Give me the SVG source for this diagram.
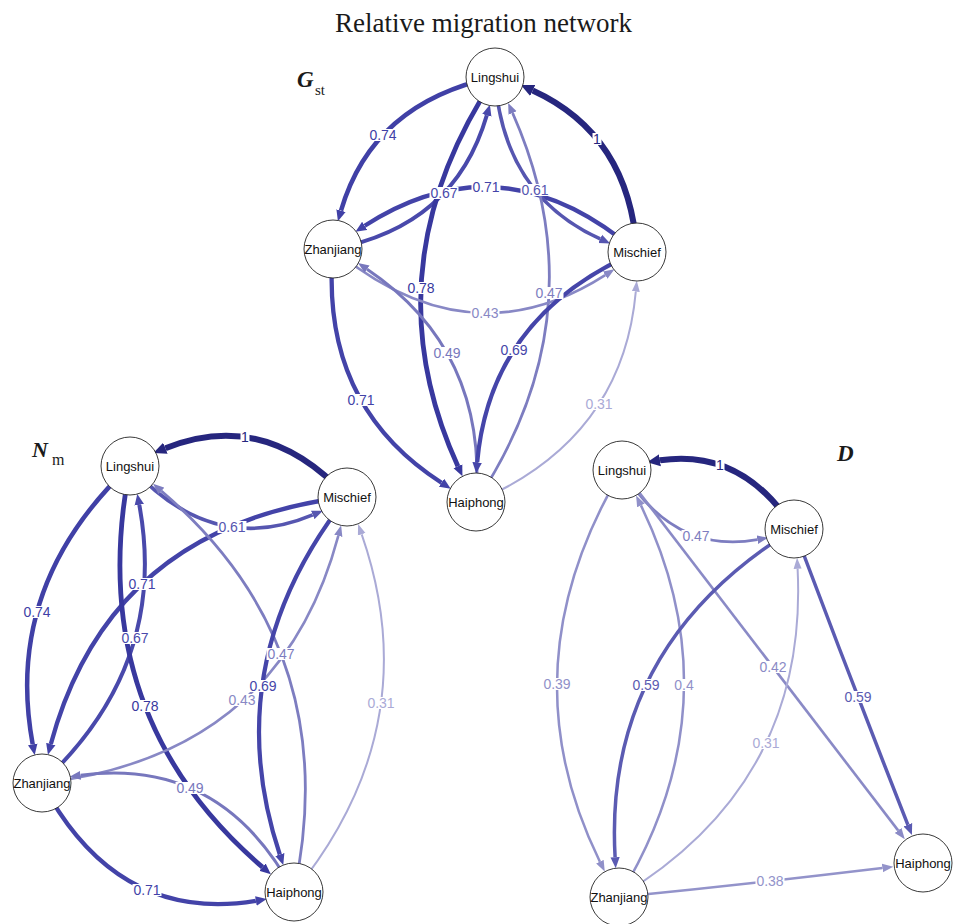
<svg xmlns="http://www.w3.org/2000/svg" width="953" height="924" viewBox="0 0 953 924">
<style>
.e{fill:none;stroke-linecap:butt}
.w100{stroke:#26267e;stroke-width:6}
.w78{stroke:#38389e;stroke-width:4.8}
.w74{stroke:#4040a6;stroke-width:4.5}
.w71{stroke:#4343a8;stroke-width:4.3}
.w69{stroke:#4545a9;stroke-width:4.2}
.w67{stroke:#4949ab;stroke-width:4}
.w61{stroke:#5656b0;stroke-width:3.6}
.w59{stroke:#5b5bb2;stroke-width:3.5}
.w49{stroke:#7777bd;stroke-width:3}
.w47{stroke:#7d7dc0;stroke-width:2.8}
.w43{stroke:#8888c5;stroke-width:2.6}
.w42{stroke:#8a8ac6;stroke-width:2.6}
.w40{stroke:#9090c9;stroke-width:2.5}
.w38{stroke:#9393ca;stroke-width:2.4}
.w31{stroke:#aaaad6;stroke-width:2}
.lb text{font-family:"Liberation Sans",Arial,sans-serif;font-size:14px;text-anchor:middle}
.lb rect{fill:#fff}
.t100{fill:#26267e}.t78{fill:#38389e}.t74{fill:#4040a6}.t71{fill:#4343a8}.t69{fill:#4545a9}.t67{fill:#4949ab}.t61{fill:#5656b0}.t59{fill:#5b5bb2}.t49{fill:#7777bd}.t47{fill:#7d7dc0}.t43{fill:#8888c5}.t42{fill:#8a8ac6}.t40{fill:#9090c9}.t38{fill:#9393ca}.t31{fill:#aaaad6}
.node circle{fill:#fff;stroke:#222;stroke-width:0.9}
.node text{font-family:"Liberation Sans",Arial,sans-serif;font-size:13px;text-anchor:middle;fill:#111}
.ttl{font-family:"Liberation Serif","Times New Roman",serif;fill:#1a1a1a}
</style>
<defs>
<marker id="m100" viewBox="0 -6.5 13 13" refX="0" refY="0" markerWidth="13" markerHeight="13" markerUnits="userSpaceOnUse" orient="auto"><path d="M0,-6L13,0L0,6z" fill="#26267e"/></marker>
<marker id="m78" viewBox="0 -5 11 10" refX="0" refY="0" markerWidth="11" markerHeight="10" markerUnits="userSpaceOnUse" orient="auto"><path d="M0,-4.8L11,0L0,4.8z" fill="#38389e"/></marker>
<marker id="m74" viewBox="0 -5 11 10" refX="0" refY="0" markerWidth="11" markerHeight="10" markerUnits="userSpaceOnUse" orient="auto"><path d="M0,-4.8L11,0L0,4.8z" fill="#4040a6"/></marker>
<marker id="m71" viewBox="0 -5 11 10" refX="0" refY="0" markerWidth="11" markerHeight="10" markerUnits="userSpaceOnUse" orient="auto"><path d="M0,-4.8L11,0L0,4.8z" fill="#4343a8"/></marker>
<marker id="m69" viewBox="0 -5 11 10" refX="0" refY="0" markerWidth="11" markerHeight="10" markerUnits="userSpaceOnUse" orient="auto"><path d="M0,-4.8L11,0L0,4.8z" fill="#4545a9"/></marker>
<marker id="m67" viewBox="0 -5 11 10" refX="0" refY="0" markerWidth="11" markerHeight="10" markerUnits="userSpaceOnUse" orient="auto"><path d="M0,-4.8L11,0L0,4.8z" fill="#4949ab"/></marker>
<marker id="m61" viewBox="0 -5 11 10" refX="0" refY="0" markerWidth="11" markerHeight="10" markerUnits="userSpaceOnUse" orient="auto"><path d="M0,-4.6L11,0L0,4.6z" fill="#5656b0"/></marker>
<marker id="m59" viewBox="0 -5 11 10" refX="0" refY="0" markerWidth="11" markerHeight="10" markerUnits="userSpaceOnUse" orient="auto"><path d="M0,-4.6L11,0L0,4.6z" fill="#5b5bb2"/></marker>
<marker id="m49" viewBox="0 -5 11 10" refX="0" refY="0" markerWidth="11" markerHeight="10" markerUnits="userSpaceOnUse" orient="auto"><path d="M0,-4.4L11,0L0,4.4z" fill="#7777bd"/></marker>
<marker id="m47" viewBox="0 -5 11 10" refX="0" refY="0" markerWidth="11" markerHeight="10" markerUnits="userSpaceOnUse" orient="auto"><path d="M0,-4.4L11,0L0,4.4z" fill="#7d7dc0"/></marker>
<marker id="m43" viewBox="0 -5 11 10" refX="0" refY="0" markerWidth="11" markerHeight="10" markerUnits="userSpaceOnUse" orient="auto"><path d="M0,-4.2L11,0L0,4.2z" fill="#8888c5"/></marker>
<marker id="m42" viewBox="0 -5 11 10" refX="0" refY="0" markerWidth="11" markerHeight="10" markerUnits="userSpaceOnUse" orient="auto"><path d="M0,-4.2L11,0L0,4.2z" fill="#8a8ac6"/></marker>
<marker id="m40" viewBox="0 -5 11 10" refX="0" refY="0" markerWidth="11" markerHeight="10" markerUnits="userSpaceOnUse" orient="auto"><path d="M0,-4.2L11,0L0,4.2z" fill="#9090c9"/></marker>
<marker id="m38" viewBox="0 -5 11 10" refX="0" refY="0" markerWidth="11" markerHeight="10" markerUnits="userSpaceOnUse" orient="auto"><path d="M0,-4.2L11,0L0,4.2z" fill="#9393ca"/></marker>
<marker id="m31" viewBox="0 -5 11 10" refX="0" refY="0" markerWidth="11" markerHeight="10" markerUnits="userSpaceOnUse" orient="auto"><path d="M0,-4L11,0L0,4z" fill="#aaaad6"/></marker>
</defs>
<rect width="953" height="924" fill="#fff"/>
<text class="ttl" x="483.5" y="32" font-size="27" text-anchor="middle">Relative migration network</text>
<g id="panel-labels" class="ttl">
<text x="297" y="87" font-size="23" font-weight="bold" font-style="italic">G</text>
<text x="315" y="95" font-size="15">st</text>
<text x="32" y="457" font-size="22" font-weight="bold" font-style="italic">N</text>
<text x="52" y="465" font-size="16">m</text>
<text x="837" y="461" font-size="23" font-weight="bold" font-style="italic">D</text>
</g>
<g id="connectors">
<g id="edges-gst">
<path class="e w74" marker-end="url(#m74)" d="M495,77 Q372.5,102.7 341.0,210.7"/>
<path class="e w100" marker-end="url(#m100)" d="M637,252 Q629.4,134.6 532.7,90.5"/>
<path class="e w67" marker-end="url(#m67)" d="M333,249 Q454.4,226.6 486.8,115.3"/>
<path class="e w71" marker-end="url(#m71)" d="M637,252 Q502.5,136.8 364.7,225.8"/>
<path class="e w61" marker-end="url(#m61)" d="M495,77 Q502.7,194.9 600.2,238.9"/>
<path class="e w78" marker-end="url(#m78)" d="M495,77 Q368.0,269.1 457.9,466.2"/>
<path class="e w47" marker-end="url(#m47)" d="M476,502 Q601.3,313.4 512.6,113.0"/>
<path class="e w43" marker-end="url(#m43)" d="M333,249 Q469.1,362.3 605.2,275.1"/>
<path class="e w49" marker-end="url(#m49)" d="M476,502 Q487.9,350.4 367.1,269.2"/>
<path class="e w71" marker-end="url(#m71)" d="M333,249 Q319.3,404.1 441.5,482.7"/>
<path class="e w69" marker-end="url(#m69)" d="M637,252 Q490.4,314.9 477.2,462.4"/>
<path class="e w31" marker-end="url(#m31)" d="M476,502 Q622.5,439.1 635.8,291.6"/>
</g>
<g id="edges-nm">
<path class="e w100" marker-end="url(#m100)" d="M347,497 Q265.6,408.0 165.4,448.2"/>
<path class="e w61" marker-end="url(#m61)" d="M130,466 Q211.8,557.2 312.7,514.9"/>
<path class="e w71" marker-end="url(#m71)" d="M347,497 Q109.9,525.6 50.8,744.1"/>
<path class="e w74" marker-end="url(#m74)" d="M130,466 Q3.2,585.2 32.7,744.3"/>
<path class="e w67" marker-end="url(#m67)" d="M42,783 Q168.9,665.5 139.3,504.8"/>
<path class="e w47" marker-end="url(#m47)" d="M294,892 Q345.8,648.7 161.4,491.0"/>
<path class="e w78" marker-end="url(#m78)" d="M130,466 Q82.0,712.6 262.5,867.1"/>
<path class="e w43" marker-end="url(#m43)" d="M42,783 Q279.3,756.3 338.3,535.9"/>
<path class="e w69" marker-end="url(#m69)" d="M347,497 Q216.2,663.3 279.8,854.5"/>
<path class="e w31" marker-end="url(#m31)" d="M294,892 Q428.6,727.3 361.7,534.3"/>
<path class="e w49" marker-end="url(#m49)" d="M294,892 Q221.6,756.4 80.5,775.3"/>
<path class="e w71" marker-end="url(#m71)" d="M42,783 Q116.2,923.9 255.9,900.9"/>
</g>
<g id="edges-d">
<path class="e w100" marker-end="url(#m100)" d="M794,529 Q743.1,448.2 660.0,460.3"/>
<path class="e w47" marker-end="url(#m47)" d="M622,470 Q673.3,554.7 757.3,539.7"/>
<path class="e w42" marker-end="url(#m42)" d="M622,470 Q760.9,651.1 898.1,830.4"/>
<path class="e w40" marker-end="url(#m40)" d="M622,470 Q504.2,666.7 599.9,861.7"/>
<path class="e w40" marker-end="url(#m40)" d="M619,897 Q737.0,703.8 640.9,505.4"/>
<path class="e w59" marker-end="url(#m59)" d="M794,529 Q603.1,646.2 615.1,857.2"/>
<path class="e w31" marker-end="url(#m31)" d="M619,897 Q808.3,783.3 797.6,568.8"/>
<path class="e w59" marker-end="url(#m59)" d="M794,529 Q850.2,678.5 907.9,824.8"/>
<path class="e w38" marker-end="url(#m38)" d="M619,897 Q749.2,884.0 882.4,868.0"/>
</g>
<g id="edge-labels" class="lb">
<rect x="368.5" y="129" width="29" height="12"/><text class="t74" x="383" y="140">0.74</text>
<rect x="592.5" y="133" width="9" height="12"/><text class="t100" x="597" y="144">1</text>
<rect x="429.5" y="187" width="29" height="12"/><text class="t67" x="444" y="198">0.67</text>
<rect x="471.5" y="181" width="29" height="12"/><text class="t71" x="486" y="192">0.71</text>
<rect x="520.5" y="184" width="29" height="12"/><text class="t61" x="535" y="195">0.61</text>
<rect x="406.5" y="282" width="29" height="12"/><text class="t78" x="421" y="293">0.78</text>
<rect x="534.5" y="287" width="29" height="12"/><text class="t47" x="549" y="298">0.47</text>
<rect x="470.5" y="307" width="29" height="12"/><text class="t43" x="485" y="318">0.43</text>
<rect x="432.5" y="347" width="29" height="12"/><text class="t49" x="447" y="358">0.49</text>
<rect x="499.5" y="344" width="29" height="12"/><text class="t69" x="514" y="355">0.69</text>
<rect x="346.5" y="394" width="29" height="12"/><text class="t71" x="361" y="405">0.71</text>
<rect x="584.5" y="398" width="29" height="12"/><text class="t31" x="599" y="409">0.31</text>

<rect x="240.5" y="431" width="9" height="12"/><text class="t100" x="245" y="442">1</text>
<rect x="217.5" y="521" width="29" height="12"/><text class="t61" x="232" y="532">0.61</text>
<rect x="127.5" y="578" width="29" height="12"/><text class="t71" x="142" y="589">0.71</text>
<rect x="22.5" y="606" width="29" height="12"/><text class="t74" x="37" y="617">0.74</text>
<rect x="120.5" y="632" width="29" height="12"/><text class="t67" x="135" y="643">0.67</text>
<rect x="266.5" y="648" width="29" height="12"/><text class="t47" x="281" y="659">0.47</text>
<rect x="130.5" y="700" width="29" height="12"/><text class="t78" x="145" y="711">0.78</text>
<rect x="227.5" y="694" width="29" height="12"/><text class="t43" x="242" y="705">0.43</text>
<rect x="248.5" y="680" width="29" height="12"/><text class="t69" x="263" y="691">0.69</text>
<rect x="366.5" y="697" width="29" height="12"/><text class="t31" x="381" y="708">0.31</text>
<rect x="175.5" y="782" width="29" height="12"/><text class="t49" x="190" y="793">0.49</text>
<rect x="132.5" y="884" width="29" height="12"/><text class="t71" x="147" y="895">0.71</text>

<rect x="715.5" y="459" width="9" height="12"/><text class="t100" x="720" y="470">1</text>
<rect x="681.5" y="530" width="29" height="12"/><text class="t47" x="696" y="541">0.47</text>
<rect x="758.5" y="661" width="29" height="12"/><text class="t42" x="773" y="672">0.42</text>
<rect x="542.5" y="678" width="29" height="12"/><text class="t40" x="557" y="689">0.39</text>
<rect x="631.5" y="679" width="29" height="12"/><text class="t59" x="646" y="690">0.59</text>
<rect x="673.5" y="679" width="21" height="12"/><text class="t40" x="684" y="690">0.4</text>
<rect x="843.5" y="691" width="29" height="12"/><text class="t59" x="858" y="702">0.59</text>
<rect x="751.5" y="737" width="29" height="12"/><text class="t31" x="766" y="748">0.31</text>
<rect x="755.5" y="875" width="29" height="12"/><text class="t38" x="770" y="886">0.38</text>
</g>
</g>
<g id="nodes">
<g id="gst-lingshui" class="node"><circle cx="495" cy="77" r="29"/><text x="495" y="81.5">Lingshui</text></g>
<g id="gst-zhanjiang" class="node"><circle cx="333" cy="249" r="29"/><text x="333" y="253.5">Zhanjiang</text></g>
<g id="gst-mischief" class="node"><circle cx="637" cy="252" r="29"/><text x="637" y="256.5">Mischief</text></g>
<g id="gst-haiphong" class="node"><circle cx="476" cy="502" r="29"/><text x="476" y="506.5">Haiphong</text></g>
<g id="nm-lingshui" class="node"><circle cx="130" cy="466" r="29"/><text x="130" y="470.5">Lingshui</text></g>
<g id="nm-mischief" class="node"><circle cx="347" cy="497" r="29"/><text x="347" y="501.5">Mischief</text></g>
<g id="nm-zhanjiang" class="node"><circle cx="42" cy="783" r="29"/><text x="42" y="787.5">Zhanjiang</text></g>
<g id="nm-haiphong" class="node"><circle cx="294" cy="892" r="29"/><text x="294" y="896.5">Haiphong</text></g>
<g id="d-lingshui" class="node"><circle cx="622" cy="470" r="29"/><text x="622" y="474.5">Lingshui</text></g>
<g id="d-mischief" class="node"><circle cx="794" cy="529" r="29"/><text x="794" y="533.5">Mischief</text></g>
<g id="d-zhanjiang" class="node"><circle cx="619" cy="897" r="29"/><text x="619" y="901.5">Zhanjiang</text></g>
<g id="d-haiphong" class="node"><circle cx="923" cy="863" r="29"/><text x="923" y="867.5">Haiphong</text></g>
</g>
</svg>
